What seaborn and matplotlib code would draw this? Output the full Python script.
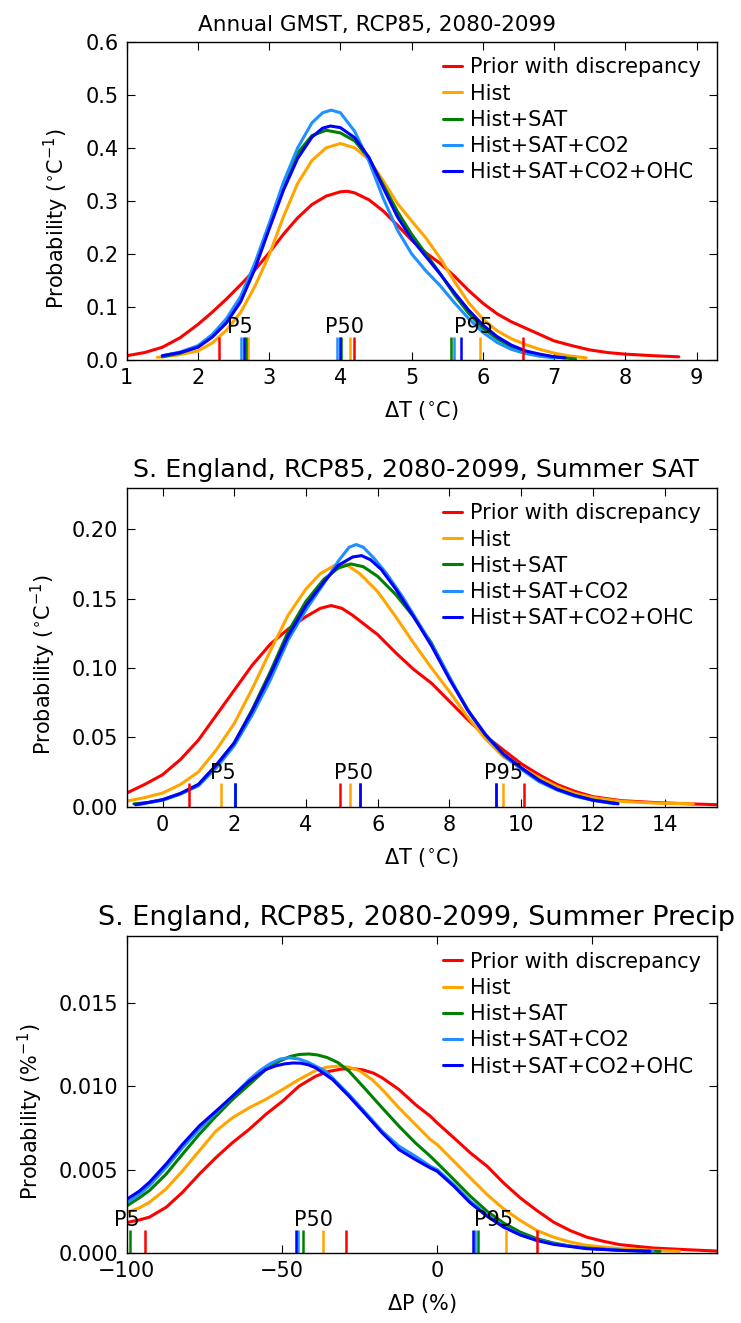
import numpy as np
import pandas as pd
import matplotlib
matplotlib.use("Agg")
import matplotlib.pyplot as plt
import seaborn as sns

series = ["Prior with discrepancy", "Hist", "Hist+SAT", "Hist+SAT+CO2", "Hist+SAT+CO2+OHC"]
colors = ["#ff0000", "#ffa500", "#008000", "#1e90ff", "#0000ff"]

# ---------------- Panel 1: Annual GMST ----------------
gmst_prior_x = [1.0, 1.25, 1.5, 1.75, 2.0, 2.2, 2.4, 2.6, 2.8, 3.0, 3.2, 3.4, 3.6, 3.8, 4.0, 4.1, 4.2, 4.4, 4.6, 4.8, 5.0, 5.2, 5.4, 5.6, 5.8, 6.0, 6.2, 6.4, 6.6, 6.8, 7.0, 7.25, 7.5, 7.75, 8.0, 8.4, 8.75]
gmst_prior_y = [0.008, 0.014, 0.024, 0.042, 0.067, 0.090, 0.115, 0.142, 0.170, 0.202, 0.237, 0.268, 0.293, 0.309, 0.317, 0.318, 0.315, 0.302, 0.281, 0.254, 0.226, 0.202, 0.182, 0.158, 0.131, 0.107, 0.087, 0.072, 0.060, 0.048, 0.036, 0.027, 0.019, 0.014, 0.011, 0.008, 0.006]
gmst_hist_x = [1.43, 1.7, 2.0, 2.2, 2.4, 2.6, 2.8, 3.0, 3.2, 3.4, 3.6, 3.8, 4.0, 4.2, 4.4, 4.6, 4.8, 5.0, 5.2, 5.4, 5.6, 5.8, 6.0, 6.2, 6.4, 6.6, 6.8, 7.0, 7.2, 7.45]
gmst_hist_y = [0.005, 0.009, 0.017, 0.032, 0.056, 0.090, 0.139, 0.198, 0.270, 0.333, 0.376, 0.400, 0.408, 0.400, 0.378, 0.338, 0.295, 0.262, 0.230, 0.192, 0.148, 0.108, 0.077, 0.055, 0.040, 0.029, 0.020, 0.013, 0.008, 0.004]
gmst_sat_x = [1.5, 1.75, 2.0, 2.2, 2.4, 2.6, 2.8, 3.0, 3.2, 3.4, 3.6, 3.8, 4.0, 4.2, 4.4, 4.6, 4.8, 5.0, 5.2, 5.4, 5.6, 5.8, 6.0, 6.2, 6.4, 6.6, 6.8, 7.0, 7.3]
gmst_sat_y = [0.006, 0.013, 0.025, 0.045, 0.075, 0.117, 0.180, 0.255, 0.330, 0.390, 0.423, 0.433, 0.428, 0.413, 0.380, 0.330, 0.280, 0.237, 0.200, 0.163, 0.123, 0.088, 0.060, 0.040, 0.025, 0.015, 0.009, 0.006, 0.002]
gmst_co2_x = [1.5, 1.75, 2.0, 2.2, 2.4, 2.6, 2.8, 3.0, 3.2, 3.4, 3.6, 3.75, 3.87, 4.0, 4.2, 4.4, 4.6, 4.8, 5.0, 5.2, 5.4, 5.6, 5.8, 6.0, 6.2, 6.4, 6.6, 6.8, 7.0]
gmst_co2_y = [0.008, 0.015, 0.027, 0.048, 0.078, 0.120, 0.183, 0.257, 0.335, 0.400, 0.447, 0.466, 0.471, 0.466, 0.431, 0.375, 0.305, 0.245, 0.200, 0.168, 0.140, 0.108, 0.078, 0.052, 0.033, 0.020, 0.012, 0.007, 0.004]
gmst_ohc_x = [1.5, 1.75, 2.0, 2.2, 2.4, 2.6, 2.8, 3.0, 3.2, 3.4, 3.6, 3.75, 3.86, 4.0, 4.2, 4.4, 4.6, 4.8, 5.0, 5.2, 5.4, 5.6, 5.8, 6.0, 6.2, 6.4, 6.6, 6.8, 7.0, 7.15]
gmst_ohc_y = [0.008, 0.014, 0.024, 0.043, 0.070, 0.110, 0.172, 0.247, 0.320, 0.380, 0.420, 0.437, 0.441, 0.438, 0.419, 0.382, 0.325, 0.270, 0.228, 0.195, 0.162, 0.127, 0.094, 0.066, 0.044, 0.028, 0.017, 0.011, 0.006, 0.004]
gmst_p5 = [2.30, 2.70, 2.67, 2.60, 2.64]
gmst_p50 = [4.19, 4.14, 4.01, 3.95, 4.00]
gmst_p95 = [6.57, 5.96, 5.55, 5.60, 5.69]

# ---------------- Panel 2: S. England summer SAT ----------------
sat_prior_x = [-1.0, -0.5, 0.0, 0.5, 1.0, 1.5, 2.0, 2.5, 3.0, 3.5, 4.0, 4.4, 4.7, 5.0, 5.3, 5.6, 6.0, 6.5, 7.0, 7.5, 8.0, 8.5, 9.0, 9.5, 10.0, 10.5, 11.0, 11.5, 12.0, 12.8, 13.7, 14.7, 15.45]
sat_prior_y = [0.0098, 0.016, 0.023, 0.034, 0.048, 0.066, 0.084, 0.102, 0.117, 0.128, 0.137, 0.143, 0.145, 0.143, 0.138, 0.132, 0.124, 0.111, 0.099, 0.089, 0.076, 0.063, 0.051, 0.041, 0.031, 0.023, 0.016, 0.011, 0.0072, 0.0043, 0.0030, 0.0020, 0.0014]
sat_hist_x = [-1.0, -0.5, 0.0, 0.5, 1.0, 1.5, 2.0, 2.5, 3.0, 3.5, 4.0, 4.4, 4.8, 5.1, 5.5, 6.0, 6.5, 7.0, 7.5, 8.0, 8.5, 9.0, 9.5, 10.0, 10.5, 11.0, 11.5, 12.0, 12.8, 13.7, 14.8]
sat_hist_y = [0.004, 0.0065, 0.0098, 0.016, 0.025, 0.041, 0.060, 0.085, 0.112, 0.138, 0.157, 0.168, 0.174, 0.175, 0.168, 0.155, 0.137, 0.118, 0.100, 0.083, 0.065, 0.049, 0.036, 0.028, 0.021, 0.0145, 0.0095, 0.0065, 0.0038, 0.0026, 0.0020]
sat_sat_x = [-0.8, -0.4, 0.0, 0.5, 1.0, 1.5, 2.0, 2.5, 3.0, 3.5, 4.0, 4.5, 4.9, 5.25, 5.6, 6.0, 6.5, 7.0, 7.5, 8.0, 8.5, 9.0, 9.5, 10.0, 10.5, 11.0, 11.5, 12.0, 12.7]
sat_sat_y = [0.002, 0.003, 0.005, 0.0095, 0.016, 0.030, 0.046, 0.070, 0.097, 0.126, 0.148, 0.164, 0.172, 0.175, 0.173, 0.166, 0.153, 0.137, 0.118, 0.093, 0.070, 0.052, 0.038, 0.028, 0.019, 0.0125, 0.008, 0.0047, 0.0022]
sat_co2_x = [-0.7, -0.4, 0.0, 0.5, 1.0, 1.5, 2.0, 2.5, 3.0, 3.5, 4.0, 4.5, 4.9, 5.2, 5.4, 5.6, 5.9, 6.25, 6.7, 7.2, 7.7, 8.2, 8.6, 9.1, 9.55, 10.0, 10.5, 11.0, 11.5, 12.0, 12.6]
sat_co2_y = [0.0014, 0.0028, 0.0045, 0.009, 0.015, 0.028, 0.044, 0.066, 0.091, 0.120, 0.142, 0.161, 0.177, 0.187, 0.189, 0.187, 0.179, 0.168, 0.151, 0.130, 0.108, 0.084, 0.066, 0.049, 0.036, 0.027, 0.018, 0.012, 0.0075, 0.0045, 0.002]
sat_ohc_x = [-0.75, -0.4, 0.0, 0.5, 1.0, 1.5, 2.0, 2.5, 3.0, 3.5, 4.0, 4.5, 4.9, 5.3, 5.55, 5.8, 6.1, 6.5, 7.0, 7.5, 8.0, 8.5, 9.0, 9.5, 10.0, 10.5, 11.0, 11.5, 12.0, 12.7]
sat_ohc_y = [0.0014, 0.003, 0.005, 0.0095, 0.016, 0.030, 0.046, 0.069, 0.095, 0.123, 0.145, 0.162, 0.174, 0.180, 0.181, 0.178, 0.171, 0.157, 0.137, 0.116, 0.092, 0.070, 0.052, 0.038, 0.028, 0.019, 0.0125, 0.008, 0.0047, 0.002]
sat_p5 = [0.74, 1.64, 2.02, 2.02, 2.02]
sat_p50 = [4.94, 5.24, 5.50, 5.50, 5.50]
sat_p95 = [10.07, 9.50, 9.31, 9.31, 9.31]

# ---------------- Panel 3: S. England summer precip ----------------
pr_prior_x = [-100, -96, -92.7, -87.3, -82, -76.6, -71.2, -65.9, -60.5, -55.2, -49.8, -44.5, -39.1, -35, -31, -27.5, -24, -20.5, -17.7, -12.3, -7, -2.2, 0, 5.4, 10.7, 16.1, 21.4, 26.8, 32.1, 37.5, 42.8, 48.2, 53.6, 58.9, 69.6, 80.3, 90]
pr_prior_y = [0.00183, 0.00198, 0.00215, 0.00274, 0.00364, 0.00473, 0.00573, 0.00662, 0.00742, 0.00831, 0.0091, 0.0100, 0.0106, 0.01088, 0.01102, 0.01106, 0.01098, 0.01078, 0.0105, 0.0098, 0.0089, 0.0082, 0.0078, 0.0069, 0.0060, 0.0052, 0.0042, 0.0033, 0.00255, 0.00185, 0.00135, 0.00095, 0.0007, 0.0005, 0.0003, 0.0002, 0.00012]
pr_hist_x = [-100, -96, -92.7, -87.3, -82, -76.6, -71.2, -65.9, -60.5, -55.2, -49.8, -44.5, -39.1, -35.5, -32, -28.4, -25, -21, -17.7, -12.3, -7, -2.2, 0, 5.4, 10.7, 16.1, 21.4, 26.8, 32.1, 37.5, 42.8, 48.2, 58.9, 69.6, 78]
pr_hist_y = [0.00243, 0.0027, 0.00304, 0.00384, 0.00493, 0.00613, 0.00732, 0.00811, 0.00871, 0.00921, 0.0098, 0.0104, 0.01094, 0.01114, 0.0112, 0.01114, 0.01092, 0.0104, 0.0098, 0.0087, 0.0077, 0.0068, 0.0065, 0.0055, 0.0045, 0.0035, 0.00265, 0.00195, 0.00135, 0.00095, 0.00066, 0.00046, 0.00026, 0.00016, 0.0001]
pr_sat_x = [-100, -96, -92.7, -87.3, -82, -76.6, -71.2, -65.9, -60.5, -55.2, -51, -47.5, -44.5, -41.3, -38.5, -35.5, -32, -28.4, -23, -17.7, -12.3, -7, -2.2, 0, 5.4, 10.7, 16.1, 21.4, 26.8, 32.1, 37.5, 42.8, 48.2, 58.9, 71.8]
pr_sat_y = [0.00282, 0.0033, 0.00374, 0.00473, 0.00593, 0.00712, 0.00821, 0.00921, 0.0101, 0.0110, 0.01148, 0.01177, 0.0119, 0.01193, 0.01187, 0.01172, 0.01142, 0.0109, 0.0098, 0.0087, 0.0076, 0.0066, 0.0058, 0.0054, 0.0044, 0.0034, 0.0025, 0.0018, 0.00125, 0.00086, 0.0006, 0.00042, 0.0003, 0.00016, 0.0001]
pr_co2_x = [-100, -96, -92.7, -87.3, -82, -76.6, -71.2, -65.9, -60.5, -57, -53.5, -50.5, -47.7, -44.5, -41.5, -39.1, -36, -33.7, -28.4, -23, -17.7, -12.3, -7, -2.2, 0, 5.4, 10.7, 16.1, 21.4, 26.8, 32.1, 37.5, 48.2, 58.9, 69.6]
pr_co2_y = [0.00302, 0.0035, 0.00404, 0.00513, 0.00632, 0.00742, 0.00841, 0.0094, 0.0104, 0.01095, 0.01138, 0.01163, 0.0117, 0.01163, 0.01143, 0.0112, 0.0109, 0.0105, 0.0095, 0.0084, 0.0073, 0.0064, 0.0058, 0.0052, 0.0050, 0.0041, 0.0031, 0.0023, 0.0016, 0.0011, 0.00078, 0.00055, 0.00028, 0.00016, 0.0001]
pr_ohc_x = [-100, -96, -92.7, -87.3, -82, -76.6, -71.2, -65.9, -60.5, -55.2, -52, -49, -46.5, -44, -41.5, -39.1, -36, -33.7, -28.4, -23, -17.7, -12.3, -7, -2.2, 0, 5.4, 10.7, 16.1, 21.4, 26.8, 32.1, 37.5, 48.2, 58.9, 68.5]
pr_ohc_y = [0.00322, 0.0037, 0.00424, 0.00533, 0.00652, 0.00762, 0.00851, 0.0094, 0.0103, 0.0110, 0.01122, 0.01134, 0.01139, 0.01138, 0.01128, 0.0111, 0.0107, 0.0104, 0.0094, 0.0083, 0.0072, 0.0062, 0.0056, 0.0051, 0.0049, 0.0040, 0.0030, 0.0022, 0.00155, 0.00108, 0.00075, 0.00052, 0.00026, 0.00016, 0.0001]
pr_p5 = [-94.0, -101.5, -99.1, -102.5, -102.4]
pr_p50 = [-29.3, -36.8, -43.1, -44.7, -45.6]
pr_p95 = [32.3, 22.2, 13.0, 12.2, 11.6]

panels = [
    dict(title="Annual GMST, RCP85, 2080-2099", title_x=0.424, title_fs=15.5,
         curves=[(gmst_prior_x, gmst_prior_y), (gmst_hist_x, gmst_hist_y), (gmst_sat_x, gmst_sat_y),
                 (gmst_co2_x, gmst_co2_y), (gmst_ohc_x, gmst_ohc_y)],
         pct=[gmst_p5, gmst_p50, gmst_p95],
         xlim=(1, 9.28), ylim=(0, 0.6), xticks=np.arange(1, 10, 1), yticks=np.arange(0, 0.61, 0.1), yfmt="%.1f",
         xlabel=r"$\Delta$T ($^{\circ}$C)", ylabel=r"Probability ($^{\circ}$C$^{-1}$)"),
    dict(title="S. England, RCP85, 2080-2099, Summer SAT", title_x=0.49, title_fs=18.3,
         curves=[(sat_prior_x, sat_prior_y), (sat_hist_x, sat_hist_y), (sat_sat_x, sat_sat_y),
                 (sat_co2_x, sat_co2_y), (sat_ohc_x, sat_ohc_y)],
         pct=[sat_p5, sat_p50, sat_p95],
         xlim=(-1, 15.45), ylim=(0, 0.23), xticks=np.arange(0, 15, 2), yticks=np.arange(0, 0.201, 0.05), yfmt="%.2f",
         xlabel=r"$\Delta$T ($^{\circ}$C)", ylabel=r"Probability ($^{\circ}$C$^{-1}$)"),
    dict(title="S. England, RCP85, 2080-2099, Summer Precip", title_x=0.492, title_fs=19.5,
         curves=[(pr_prior_x, pr_prior_y), (pr_hist_x, pr_hist_y), (pr_sat_x, pr_sat_y),
                 (pr_co2_x, pr_co2_y), (pr_ohc_x, pr_ohc_y)],
         pct=[pr_p5, pr_p50, pr_p95],
         xlim=(-100, 90), ylim=(0, 0.019), xticks=[-100, -50, 0, 50], yticks=np.arange(0, 0.0151, 0.005), yfmt="%.3f",
         xlabel=r"$\Delta$P (%)", ylabel=r"Probability (%$^{-1}$)"),
]
pct_names = ["P5", "P50", "P95"]

sns.set_theme(style="white")
plt.rcParams.update({
    "font.family": ["DejaVu Sans"],
    "axes.edgecolor": "black",
    "axes.linewidth": 1.0,
    "xtick.direction": "in", "ytick.direction": "in",
    "xtick.top": True, "ytick.right": True,
    "xtick.bottom": True, "ytick.left": True,
    "xtick.major.size": 6, "ytick.major.size": 6,
    "xtick.major.width": 0.8, "ytick.major.width": 0.8,
    "xtick.color": "black", "ytick.color": "black",
    "text.color": "black", "axes.labelcolor": "black",
    "mathtext.default": "regular",
})

fs = 15
fig = plt.figure(figsize=(7.41, 13.23), dpi=100)
axes_pos = [[0.171, 0.7279, 0.796, 0.2406],
            [0.171, 0.3903, 0.796, 0.2411],
            [0.171, 0.0529, 0.796, 0.2396]]

for pos, p in zip(axes_pos, panels):
    ax = fig.add_axes(pos)
    rows = []
    for name, (xs, ys) in zip(series, p["curves"]):
        rows.append(pd.DataFrame({"x": xs, "y": ys, "series": name}))
    df = pd.concat(rows, ignore_index=True)
    sns.lineplot(data=df, x="x", y="y", hue="series", hue_order=series, palette=colors,
                 estimator=None, sort=False, lw=2.2, ax=ax, legend=False)
    ax.set_xlim(*p["xlim"])
    ax.set_ylim(*p["ylim"])
    h = 0.073 * p["ylim"][1]
    for label, vals in zip(pct_names, p["pct"]):
        for v, c in zip(vals, colors):
            ax.vlines(v, 0, h, color=c, lw=1.8)
        ax.text(np.mean(vals), h, label, ha="center", va="bottom", fontsize=fs)
    ax.set_xticks(p["xticks"])
    ax.set_yticks(p["yticks"])
    ax.set_yticklabels([p["yfmt"] % t for t in p["yticks"]])
    ax.tick_params(labelsize=fs, pad=6)
    ax.set_xlabel(p["xlabel"], fontsize=fs, labelpad=8)
    ax.set_ylabel(p["ylabel"], fontsize=fs, labelpad=10, y=0.445)
    ax.text(p["title_x"], 1.0 + 11.0 / (pos[3] * 1323), p["title"], transform=ax.transAxes,
            ha="center", va="baseline", fontsize=p["title_fs"])
    ax.legend(handles=ax.lines[:5], labels=series, loc="upper right", frameon=False,
              fontsize=fs, handlelength=0.9, handletextpad=0.4, labelspacing=0.3,
              borderaxespad=0.35)

fig.savefig("out.png", dpi=100)
